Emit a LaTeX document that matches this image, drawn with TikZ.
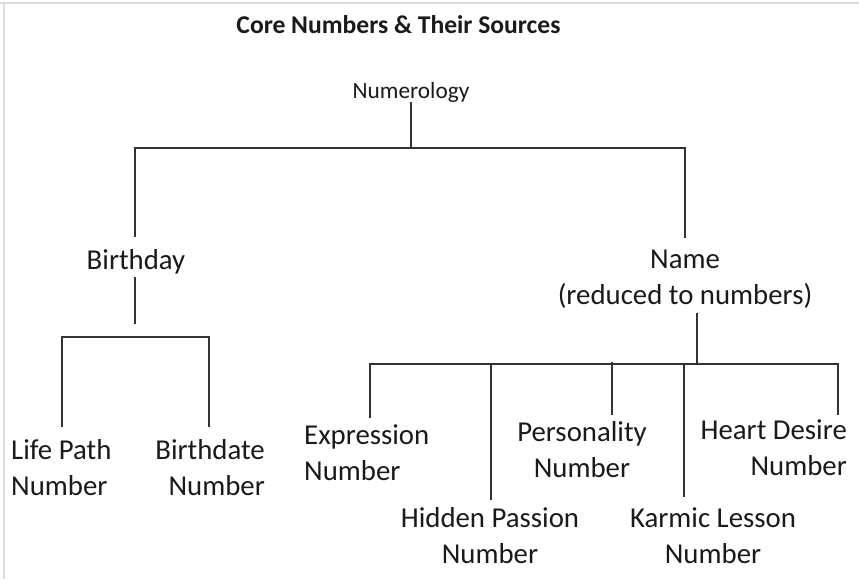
\documentclass[tikz,border=0pt]{standalone}
\usepackage{fontspec}
\setmainfont{Carlito}
\usetikzlibrary{calc}
\definecolor{ink}{HTML}{1A1A1A}
\definecolor{wire}{HTML}{333333}
\definecolor{framegray}{HTML}{DCDCDC}
\begin{document}
\begin{tikzpicture}[x=1pt,y=-1pt,
  lbl/.style={inner sep=0pt, text=ink, font=\fontsize{28.8}{35.5}\selectfont, anchor=base},
  conn/.style={draw=wire, line width=2pt, line join=miter}]
\useasboundingbox (0,0) rectangle (859,579);
\fill[white] (0,0) rectangle (859,579);
\draw[framegray, line width=2pt] (0,3) -- (859,3);
\draw[framegray, line width=2pt] (4,3) -- (4,579);

% texts (base = baseline of the last line)
\node[lbl, font=\bfseries\fontsize{25.6}{30}\selectfont] (title) at (398.5,33) {Core Numbers \& Their Sources};
\node[lbl, font=\fontsize{23.3}{28}\selectfont] (num) at (411,98) {Numerology};
\node[lbl] (bday) at (136,269) {Birthday};
\node[lbl, align=center] (name) at (685,304) {Name\\(reduced to numbers)};
\node[lbl, align=left, anchor=base west] (life) at (11,495) {Life Path\\Number};
\node[lbl, align=right, anchor=base east] (bdate) at (265,495) {Birthdate\\Number};
\node[lbl, align=left, anchor=base west] (expr) at (304,480) {Expression\\Number};
\node[lbl, align=center] (hidden) at (490,563) {Hidden Passion\\Number};
\node[lbl, align=center] (pers) at (582,477) {Personality\\Number};
\node[lbl, align=center] (karmic) at (713,563) {Karmic Lesson\\Number};
\node[lbl, align=right, anchor=base east] (heart) at (847,475) {Heart Desire\\Number};

% junction and end coordinates
\coordinate (topL) at (135,148);
\coordinate (topR) at (685,148);
\coordinate (bdayEnd) at (135,237);
\coordinate (nameEnd) at (685,238);
\coordinate (bdayStemA) at (135,277);
\coordinate (bdayStemB) at (135,324);
\coordinate (lifeEnd) at (62,427);
\coordinate (bdateEnd) at (209,427);
\coordinate (nameStemA) at (697,313);
\coordinate (nameBar) at (697,364);
\coordinate (exprEnd) at (370,418);
\coordinate (heartEnd) at (838,415);
\coordinate (hiddenTop) at (491,364);
\coordinate (hiddenEnd) at (491,500);
\coordinate (persTop) at (612,362);
\coordinate (persEnd) at (612,415);
\coordinate (karmicTop) at (684,364);
\coordinate (karmicEnd) at (684,497);

% connectors
\draw[conn] (num.south) -- (num.south |- topL);
\draw[conn] (bdayEnd) -- (topL) -- (topR) -- (nameEnd);
\draw[conn] (bdayStemA) -- (bdayStemB);
\draw[conn] (lifeEnd) |- (62,337) -- (209,337) -- (bdateEnd);
\draw[conn] (nameStemA) -- (nameBar);
\draw[conn] (exprEnd) |- (heartEnd |- nameBar) -- (heartEnd);
\draw[conn] (hiddenTop) -- (hiddenEnd);
\draw[conn] (persTop) -- (persEnd);
\draw[conn] (karmicTop) -- (karmicEnd);
\end{tikzpicture}
\end{document}
